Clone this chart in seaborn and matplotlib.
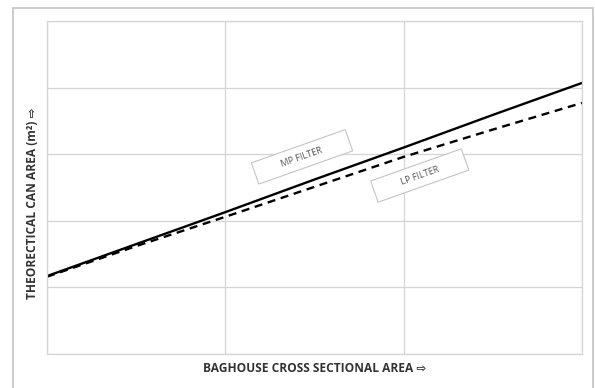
import pandas as pd
import matplotlib
matplotlib.use("Agg")
import matplotlib.pyplot as plt
from matplotlib.patches import Rectangle
import seaborn as sns

# values (no tick labels in the original, so arbitrary units)
area = [0, 0.5, 1, 1.5, 2, 2.5, 3]
mp_filter = [1.17, 1.65, 2.13, 2.62, 3.10, 3.59, 4.07]
lp_filter = [1.16, 1.62, 2.06, 2.51, 2.96, 3.37, 3.77]
series_names = ["MP FILTER", "LP FILTER"]

df = pd.DataFrame({
    "area": area * 2,
    "can_area": mp_filter + lp_filter,
    "filter": [series_names[0]] * len(area) + [series_names[1]] * len(area),
})

sns.set_style("white")
plt.rcParams["font.family"] = ["Open Sans", "DejaVu Sans"]

fig = plt.figure(figsize=(5.95, 3.88), dpi=100)
ax = fig.add_axes([47 / 595, 1 - 354 / 388, (582 - 47) / 595, (354 - 21) / 388])

sns.lineplot(data=df, x="area", y="can_area", hue="filter", style="filter",
             palette={series_names[0]: "black", series_names[1]: "black"},
             dashes={series_names[0]: "", series_names[1]: (3.4, 2.4)},
             linewidth=1.7, legend=False, ax=ax)

ax.set_xlim(0, 3)
ax.set_ylim(0, 5)
ax.set_xticks([0, 1, 2, 3])
ax.set_yticks([0, 1, 2, 3, 4, 5])
ax.tick_params(length=0, labelleft=False, labelbottom=False)
ax.grid(True, color="#d4d4d4", linewidth=0.9)
for s in ax.spines.values():
    s.set_color("#d4d4d4")
    s.set_linewidth(0.9)

ax.set_xlabel("BAGHOUSE CROSS SECTIONAL AREA \u21e8", fontsize=8.6, fontweight="bold",
              color="#333333")
ax.xaxis.set_label_coords(0.5, -0.045, transform=ax.transAxes)
ax.xaxis.label.set_va("center")
ax.set_ylabel("THEORECTICAL CAN AREA (m\u00b2) \u21e8", fontsize=8.6, fontweight="bold",
              color="#333333")
ax.yaxis.set_label_coords(-0.028, 0.453, transform=ax.transAxes)
ax.yaxis.label.set_va("center")

# rotated call-out boxes along the lines
pad = " " * 9
ax.text(1.43, 2.96, pad + series_names[0] + pad, rotation=19.5, ha="center", va="center",
        fontsize=6.5, color="#555555", rotation_mode="anchor",
        bbox=dict(boxstyle="square,pad=0.75", fc="white", ec="#c4c4c4", lw=0.8))
ax.text(2.09, 2.68, pad + series_names[1] + pad, rotation=19.5, ha="center", va="center",
        fontsize=6.5, color="#555555", rotation_mode="anchor",
        bbox=dict(boxstyle="square,pad=0.75", fc="white", ec="#c4c4c4", lw=0.8))

# outer chart frame
fig.patches.append(Rectangle((13 / 595, -0.05), (593 - 13) / 595, 1 - 8 / 388 + 0.05,
                             transform=fig.transFigure, fill=False,
                             ec="#c4c4c4", lw=1.2))

fig.savefig("out.png", dpi=100)
